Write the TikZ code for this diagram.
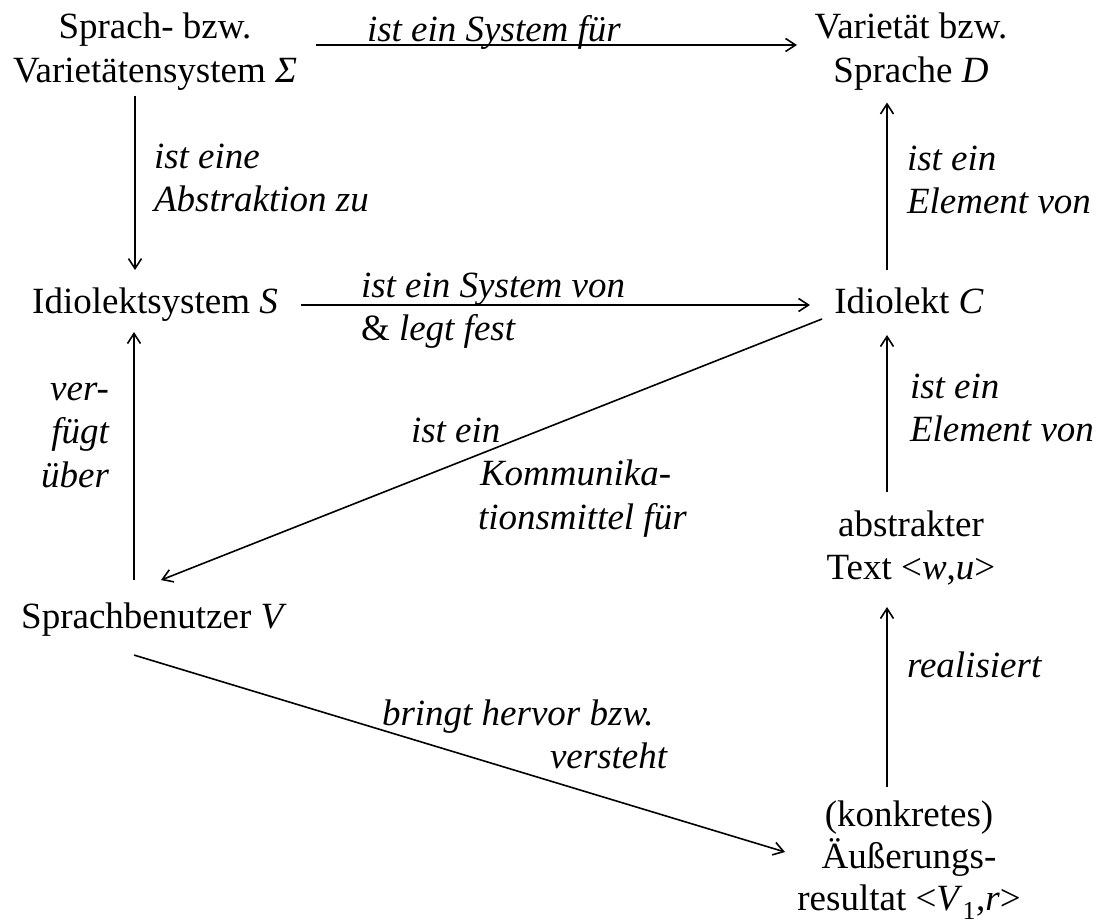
\documentclass[tikz,border=0pt]{standalone}
\usepackage{fontspec}
\setmainfont{Liberation Serif}[ItalicFont={Liberation Serif Italic}]
\usetikzlibrary{arrows.meta}
\newcommand\mylines[2][c]{\begin{tabular}[t]{@{}#1@{}}#2\end{tabular}}
\begin{document}
\begin{tikzpicture}[x=1pt,y=-1pt,
  nd/.style={font=\fontsize{37}{43.5}\selectfont, inner sep=0pt, outer sep=0pt, anchor=base},
  lab/.style={font=\fontsize{37}{43.5}\selectfont\itshape, inner sep=0pt, outer sep=0pt, anchor=base west},
  arr/.style={line width=1.6pt, -{Straight Barb[length=10pt,width=13pt,line width=1.6pt]}}]
\useasboundingbox (0,0) rectangle (1100,923);
% nodes
\node[nd] (sig) at (155,39) {\mylines{Sprach- bzw.\\Varietätensystem \textit{Σ}}};
\node[nd] (D) at (911,39) {\mylines{Varietät bzw.\\Sprache \textit{D}}};
\node[nd] (S) at (155,313) {\mylines{Idiolektsystem \textit{S}}};
\node[nd] (C) at (909,313) {\mylines{Idiolekt \textit{C}}};
\node[nd] (V) at (154,628) {\mylines{Sprachbenutzer \textit{V}}};
\node[nd] (T) at (911,536) {\mylines{abstrakter\\Text <\textit{w},\textit{u}>}};
\node[nd,font=\fontsize{37}{42}\selectfont] (R) at (909,826) {\mylines{(konkretes)\\Äußerungs-\\resultat <\textit{V}\textsubscript{1},\textit{r}>}};
% connectors
\draw[arr] ([xshift=161pt,yshift=-6pt]sig.base) -- ([xshift=-114pt,yshift=-6pt]D.base);
\draw[arr] ([xshift=-20pt]sig.south) -- ([xshift=-20pt,yshift=12.5pt]S.north);
\draw[arr] ([xshift=146pt,yshift=8pt]S.base) -- ([xshift=-99pt,yshift=8pt]C.base);
\draw[arr] ([xshift=-22pt,yshift=12.5pt]C.north) -- ([xshift=-24pt,yshift=-7pt]D.south);
\draw[arr] ([xshift=-20pt,yshift=17.5pt]V.north) -- ([xshift=-21pt,yshift=-6pt]S.south);
\draw[arr] ([xshift=-87pt,yshift=-6pt]C.base) -- ([xshift=7pt,yshift=17.5pt]V.north);
\draw[arr] ([xshift=-24pt,yshift=13.5pt]T.north) -- ([xshift=-22pt,yshift=-9pt]C.south);
\draw[arr] ([xshift=-22pt,yshift=9.6pt]R.north) -- ([xshift=-24pt,yshift=-14.5pt]T.south);
\draw[arr] ([xshift=-20pt,yshift=-14pt]V.south) -- ([xshift=-124pt,yshift=-26pt]R.base);
% labels
\node[lab] (l1) at (367,42) {ist ein System für};
\node[lab] (l2) at (154,168) {\mylines[l]{ist eine\\Abstraktion zu}};
\node[lab] (l3) at (361,297) {\mylines[l]{ist ein System von\\{\upshape\&} legt fest}};
\node[lab] (l4) at (907,170) {\mylines[l]{ist ein\\Element von}};
\node[lab,anchor=base east] (l5) at (109,400) {\mylines[r]{ver-\\fügt\\über}};
\node[lab] (l6) at (411,442) {\mylines[l]{ist ein\\\hspace*{69pt}Kommunika-\\\hspace*{67pt}tionsmittel für}};
\node[lab] (l7) at (910,398) {\mylines[l]{ist ein\\Element von}};
\node[lab] (l8) at (907,677) {realisiert};
\node[lab] (l9) at (382,725) {\mylines[l]{bringt hervor bzw.\\\hspace*{168pt}versteht}};
\end{tikzpicture}
\end{document}
